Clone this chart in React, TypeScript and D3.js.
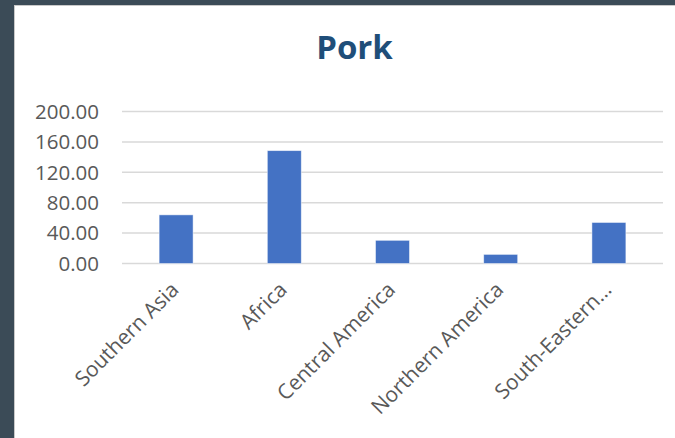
import React from "react";
import * as d3 from "d3";

const categories = ["Southern Asia", "Africa", "Central America", "Northern America", "South-Eastern…"];
const values = [64, 148.5, 30.5, 12, 54];
const yTicks = [0, 40, 80, 120, 160, 200];
const title = "Pork";

const W = 675;
const H = 438;

export default function App() {
  const x = d3.scaleBand<string>().domain(categories).range([122, 663]).paddingInner(0.686).paddingOuter(0.343);
  const y = d3.scaleLinear().domain([0, 200]).range([263.5, 111.5]);
  const fmt = d3.format(".2f");
  const font = "'Open Sans', sans-serif";
  return (
    <svg width={W} height={H} style={{ position: "fixed", left: 0, top: 0 }} xmlns="http://www.w3.org/2000/svg">
      <rect x={0} y={0} width={W} height={H} fill="#3b4b57" />
      <rect x={14} y={5} width={W - 14} height={H - 5} fill="#c9c9c9" />
      <rect x={15} y={6} width={W - 15} height={H - 6} fill="#ffffff" />
      <text x={354.5} y={59} textAnchor="middle" fontFamily={font} fontWeight={700} fontSize={33} fill="#1f4e79">
        {title}
      </text>
      {yTicks.map((t) => (
        <g key={t}>
          <line x1={122} x2={663} y1={y(t)} y2={y(t)} stroke="#d9d9d9" strokeWidth={1.5} />
          <text x={99} y={y(t)} dy="0.36em" textAnchor="end" fontFamily={font} fontSize={20.5} fill="#595959">
            {fmt(t)}
          </text>
        </g>
      ))}
      {categories.map((c, i) => (
        <rect
          key={c}
          x={x(c)!}
          y={y(values[i])}
          width={x.bandwidth()}
          height={y(0) - y(values[i])}
          fill="#4472c4"
          stroke="#ffffff"
          strokeOpacity={0.6}
          strokeWidth={0.8}
        />
      ))}
      {categories.map((c) => {
        const cx = x(c)! + x.bandwidth() / 2;
        return (
          <text
            key={c + "l"}
            transform={`translate(${cx + 4},${291}) rotate(-45)`}
            textAnchor="end"
            fontFamily={font}
            fontSize={21}
            fill="#595959"
          >
            {c}
          </text>
        );
      })}
    </svg>
  );
}
